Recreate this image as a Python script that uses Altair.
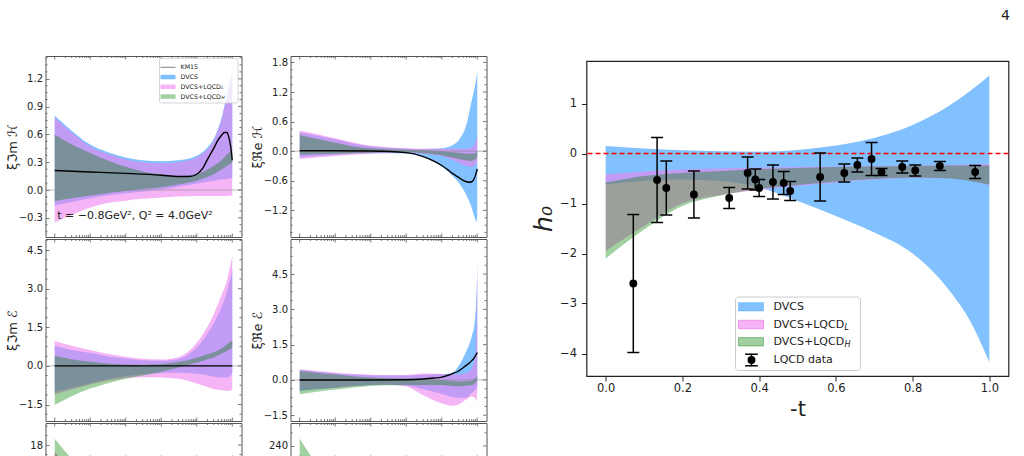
import altair as alt
import pandas as pd

FONT = "DejaVu Sans"
INK = "#222222"
EDGE = "#555555"

BLUE, BLUE_OP = "#1e90ff", 0.56
PINK, PINK_OP = "#ee82ee", 0.6
GREEN, GREEN_OP = "#008000", 0.37

# ---------------- left panels: x = xi (log scale)
XI = [1e-5, 3e-5, 1e-4, 3e-4, 1e-3, 3e-3, 1e-2, 3e-2, 0.1, 0.2, 0.3, 0.5, 0.7, 0.85, 0.95, 1.0]
KM_XI = [1e-5, 1e-4, 1e-3, 1e-2, 0.03, 0.06, 0.1, 0.15, 0.2, 0.3, 0.4, 0.5, 0.6, 0.7, 0.8, 0.9, 1.0]
XI_CUT = [1e-5, 3e-5, 1e-4, 3e-4, 1e-3]

IMH_DVCS_HI = [0.80, 0.64, 0.49, 0.41, 0.35, 0.32, 0.31, 0.32, 0.37, 0.46, 0.55, 0.78, 1.02, 1.16, 1.24, 1.29]
IMH_DVCS_LO = [-0.17, -0.13, -0.09, -0.06, -0.035, -0.015, 0.005, 0.035, 0.07, 0.09, 0.10, 0.115, 0.12, 0.125, 0.13, 0.13]
IMH_L_HI = [0.78, 0.62, 0.47, 0.39, 0.33, 0.30, 0.29, 0.30, 0.35, 0.44, 0.53, 0.76, 1.00, 1.14, 1.22, 1.27]
IMH_L_LO = [-0.35, -0.27, -0.19, -0.14, -0.115, -0.095, -0.08, -0.07, -0.065, -0.065, -0.065, -0.065, -0.065, -0.062, -0.06, -0.06]
IMH_H_HI = [0.60, 0.49, 0.40, 0.32, 0.25, 0.20, 0.17, 0.15, 0.17, 0.22, 0.26, 0.32, 0.38, 0.41, 0.43, 0.44]
IMH_H_LO = [-0.12, -0.09, -0.06, -0.035, -0.01, 0.01, 0.03, 0.06, 0.10, 0.14, 0.17, 0.22, 0.26, 0.28, 0.29, 0.30]
IMH_KM15 = [0.21, 0.195, 0.18, 0.16, 0.145, 0.145, 0.17, 0.24, 0.33, 0.45, 0.54, 0.59, 0.62, 0.62, 0.57, 0.47, 0.32]

REH_DVCS_HI = [0.38, 0.32, 0.24, 0.16, 0.10, 0.07, 0.05, 0.045, 0.06, 0.12, 0.22, 0.55, 1.03, 1.30, 1.50, 1.63]
REH_DVCS_LO = [-0.13, -0.10, -0.07, -0.05, -0.04, -0.04, -0.05, -0.11, -0.31, -0.50, -0.64, -0.90, -1.15, -1.35, -1.43, -1.30]
REH_L_HI = [0.42, 0.35, 0.26, 0.18, 0.11, 0.08, 0.06, 0.05, 0.05, 0.05, 0.05, 0.05, 0.07, 0.15, 0.25, 0.30]
REH_L_LO = [-0.16, -0.13, -0.10, -0.07, -0.05, -0.035, -0.03, -0.05, -0.10, -0.18, -0.24, -0.30, -0.32, -0.28, -0.24, -0.20]
REH_H_HI = [0.33, 0.25, 0.17, 0.10, 0.06, 0.04, 0.03, 0.02, 0.0, -0.02, -0.03, -0.05, -0.05, -0.04, -0.02, 0.01]
REH_H_LO = [-0.07, -0.06, -0.05, -0.04, -0.03, -0.02, -0.02, -0.04, -0.08, -0.13, -0.16, -0.19, -0.20, -0.17, -0.14, -0.12]
REH_KM15 = [0.01, 0.01, 0.005, -0.03, -0.11, -0.20, -0.29, -0.38, -0.45, -0.53, -0.59, -0.62, -0.63, -0.62, -0.57, -0.48, -0.36]

IME_DVCS_HI = [0.78, 0.62, 0.50, 0.38, 0.29, 0.22, 0.20, 0.27, 0.72, 1.25, 1.65, 2.30, 2.85, 3.30, 3.55, 3.70]
IME_DVCS_LO = [-1.0, -0.85, -0.68, -0.52, -0.40, -0.32, -0.28, -0.27, -0.30, -0.36, -0.42, -0.45, -0.45, -0.40, -0.33, -0.28]
IME_L_HI = [0.97, 0.78, 0.62, 0.47, 0.36, 0.28, 0.25, 0.34, 0.90, 1.52, 2.00, 2.75, 3.30, 3.80, 4.10, 4.30]
IME_L_LO = [-1.10, -0.92, -0.72, -0.58, -0.47, -0.44, -0.45, -0.50, -0.68, -0.82, -0.90, -0.95, -0.97, -0.96, -0.95, -0.95]
IME_H_HI = [0.39, 0.26, 0.16, 0.09, 0.05, 0.04, 0.07, 0.15, 0.32, 0.45, 0.53, 0.68, 0.83, 0.92, 0.97, 1.00]
IME_H_LO = [-1.52, -1.18, -0.88, -0.68, -0.50, -0.37, -0.23, -0.06, 0.13, 0.26, 0.33, 0.48, 0.58, 0.65, 0.69, 0.71]
IME_KM15 = [0.0, 0.0, 0.0, 0.0, 0.0, 0.0, 0.0, 0.0, 0.0, 0.0, 0.0, 0.0, 0.0, 0.0, 0.0, 0.0, 0.0]

REE_DVCS_HI = [0.42, 0.35, 0.28, 0.23, 0.20, 0.19, 0.19, 0.22, 0.25, 0.30, 0.60, 1.25, 1.85, 2.50, 3.60, 4.60]
REE_DVCS_LO = [-0.47, -0.40, -0.33, -0.26, -0.21, -0.20, -0.24, -0.40, -0.60, -0.72, -0.76, -0.75, -0.55, -0.45, -0.35, -0.30]
REE_L_HI = [0.45, 0.38, 0.31, 0.26, 0.22, 0.21, 0.21, 0.27, 0.25, 0.22, 0.24, 0.30, 0.50, 0.90, 2.50, 5.30]
REE_L_LO = [-0.44, -0.39, -0.34, -0.27, -0.21, -0.20, -0.28, -0.65, -1.00, -1.10, -1.04, -0.82, -0.70, -0.75, -0.90, -0.40]
REE_H_HI = [0.38, 0.31, 0.23, 0.16, 0.10, 0.07, 0.06, 0.03, 0.0, -0.05, -0.07, -0.06, -0.02, 0.05, 0.12, 0.20]
REE_H_LO = [-0.61, -0.50, -0.41, -0.33, -0.26, -0.23, -0.21, -0.21, -0.22, -0.26, -0.27, -0.25, -0.22, -0.15, -0.05, 0.05]
REE_KM15 = [0.0, 0.0, 0.0, 0.01, 0.04, 0.08, 0.12, 0.20, 0.27, 0.38, 0.52, 0.63, 0.72, 0.82, 0.92, 1.04, 1.16]

# third row (only its top edge is visible)
ROW3L_L_HI = [17.0, 14.0, 11.0, 8.5, 6.5]
ROW3L_L_LO = [5.0, 4.0, 3.0, 2.0, 1.0]
ROW3L_H_HI = [19.0, 15.8, 12.6, 10.0, 8.0]
ROW3L_H_LO = [8.0, 6.0, 4.0, 2.5, 1.5]
ROW3R_L_HI = [210.0, 180.0, 150.0, 120.0, 90.0]
ROW3R_L_LO = [100.0, 80.0, 60.0, 40.0, 20.0]
ROW3R_H_HI = [251.0, 211.0, 170.0, 135.0, 105.0]
ROW3R_H_LO = [150.0, 120.0, 90.0, 60.0, 40.0]

X_MAJOR = [1e-5, 1e-4, 1e-3, 1e-2, 1e-1, 1.0]
X_MINOR = [m * 10.0 ** e for e in range(-5, 0) for m in range(2, 10)]
ZERO = [0.0]

# ---------------- right panel: h0 vs -t
T_GRID = [0.0, 0.1, 0.2, 0.3, 0.4, 0.5, 0.6, 0.7, 0.8, 0.9, 0.95, 1.0]
H0_DVCS_HI = [0.15, 0.10, 0.065, 0.045, 0.035, 0.07, 0.16, 0.31, 0.57, 0.98, 1.25, 1.56]
H0_DVCS_LO = [-0.62, -0.55, -0.52, -0.55, -0.68, -0.95, -1.25, -1.58, -2.0, -2.78, -3.35, -4.17]
H0_L_HI = [-0.42, -0.36, -0.32, -0.30, -0.28, -0.27, -0.26, -0.25, -0.24, -0.23, -0.22, -0.21]
H0_L_LO = [-1.95, -1.45, -1.0, -0.83, -0.73, -0.65, -0.58, -0.52, -0.49, -0.50, -0.55, -0.63]
H0_H_HI = [-0.58, -0.45, -0.39, -0.35, -0.31, -0.29, -0.27, -0.26, -0.25, -0.24, -0.24, -0.24]
H0_H_LO = [-2.10, -1.52, -1.05, -0.84, -0.71, -0.63, -0.56, -0.51, -0.48, -0.50, -0.55, -0.62]

LQCD_T = [0.072, 0.134, 0.158, 0.230, 0.322, 0.370, 0.390, 0.400, 0.436, 0.464,
          0.481, 0.559, 0.622, 0.656, 0.693, 0.719, 0.773, 0.807, 0.871, 0.963]
LQCD_H0 = [-2.60, -0.53, -0.69, -0.82, -0.89, -0.39, -0.52, -0.69, -0.57, -0.59,
           -0.75, -0.47, -0.39, -0.23, -0.11, -0.37, -0.27, -0.34, -0.25, -0.37]
LQCD_ERR = [1.38, 0.85, 0.54, 0.47, 0.21, 0.32, 0.21, 0.17, 0.34, 0.23,
            0.19, 0.48, 0.18, 0.14, 0.33, 0.07, 0.12, 0.11, 0.09, 0.13]

ONE = pd.DataFrame({"k": [0]})
DVCSLQCD_EM = 6.437  # advance width of "DVCS+LQCD" in DejaVu Sans, in em


def vtext(x, y, text, size, **kw):
    return alt.Chart(ONE).mark_text(text=text, font=FONT, fontSize=size, color=INK,
                                    align="left", baseline="middle", **kw).encode(
        x=alt.value(x), y=alt.value(y))


def vrect(x0, x1, y0, y1, **kw):
    return alt.Chart(ONE).mark_rect(**kw).encode(
        x=alt.value(x0), x2=alt.value(x1), y=alt.value(y0), y2=alt.value(y1))


def vrule(x0, x1, y0, y1, **kw):
    return alt.Chart(ONE).mark_rule(**kw).encode(
        x=alt.value(x0), x2=alt.value(x1), y=alt.value(y0), y2=alt.value(y1))


def label_with_sub(x, y, sub, size, subsize, dy):
    w = DVCSLQCD_EM * size
    return [vtext(x, y, "DVCS+LQCD", size),
            vtext(x + w + 0.3, y + dy, sub, subsize, fontStyle="italic")]


def minor_ticks(dom, step, majors):
    out = []
    k = int(dom[0] // step) - 1
    while k * step <= dom[1] + 1e-9:
        v = round(k * step, 6)
        if dom[0] < v < dom[1] and all(abs(v - m) > 1e-6 for m in majors):
            out.append(v)
        k += 1
    return out


XS_L = alt.Scale(type="log", domain=[5.5e-6, 1.82], nice=False)


def left_panel(W, H, ydom, yticks, ystep, fmt, title, bands, xs_band, km=None,
               zero=True, legend=False, note=False, title_opacity=1.0):
    ys = alt.Scale(domain=ydom, nice=False, zero=False)
    yaxis = alt.Axis(values=yticks, tickCount=20, format=fmt, title=title, labelFont=FONT,
                     labelFontSize=10, labelColor=INK, labelPadding=3, labelOverlap=False,
                     tickSize=3.5, tickWidth=0.8, tickColor=EDGE, offset=-3.5, domain=False,
                     grid=False, minExtent=26, maxExtent=26, titleFont=FONT, titleFontSize=13,
                     titleFontWeight="normal", titleColor=INK, titlePadding=3.5,
                     titleOpacity=title_opacity)
    layers = []
    first = True
    for hi, lo, color, op in bands:
        df = pd.DataFrame({"xi": xs_band, "hi": hi, "lo": lo})
        yenc = alt.Y("hi:Q", scale=ys, axis=yaxis) if first else alt.Y("hi:Q", scale=ys)
        layers.append(alt.Chart(df).mark_area(color=color, opacity=op, interpolate="monotone",
                                              clip=True).encode(
            x=alt.X("xi:Q", scale=XS_L, axis=None), y=yenc, y2="lo:Q"))
        first = False
    if zero:
        layers.append(alt.Chart(pd.DataFrame({"z": ZERO})).mark_rule(
            color="#8a8a8a", strokeWidth=0.6).encode(y=alt.Y("z:Q", scale=ys)))
    if km is not None:
        df = pd.DataFrame({"xi": KM_XI, "km": km})
        layers.append(alt.Chart(df).mark_line(color="black", strokeWidth=1.4,
                                              interpolate="monotone", clip=True).encode(
            x=alt.X("xi:Q", scale=XS_L, axis=None), y=alt.Y("km:Q", scale=ys)))
    # inward ticks (top / bottom / right, minor left)
    for vals, L in ((X_MAJOR, 3.5), (X_MINOR, 2.0)):
        df = pd.DataFrame({"v": vals})
        for y0, y1 in ((0, L), (H, H - L)):
            layers.append(alt.Chart(df).mark_rule(color=EDGE, strokeWidth=0.8).encode(
                x=alt.X("v:Q", scale=XS_L, axis=None), y=alt.value(y0), y2=alt.value(y1)))
    ymin = minor_ticks(ydom, ystep / 4.0, yticks)
    for vals, L, sides in ((yticks, 3.5, (W,)), (ymin, 2.0, (0, W))):
        df = pd.DataFrame({"v": vals})
        for x0 in sides:
            x1 = x0 + L if x0 == 0 else x0 - L
            layers.append(alt.Chart(df).mark_rule(color=EDGE, strokeWidth=0.8).encode(
                y=alt.Y("v:Q", scale=ys), x=alt.value(x0), x2=alt.value(x1)))
    if note:
        layers.append(alt.Chart(ONE).mark_text(
            text="t = \u22120.8GeV\u00b2, Q\u00b2 = 4.0GeV\u00b2", font=FONT, fontSize=11,
            color=INK, align="center", baseline="middle").encode(
            x=alt.value(89.5), y=alt.value(160)))
    if legend:
        fs = 6.3
        layers.append(vrect(114, 192.5, 2.3, 47, fill="white", fillOpacity=0.8,
                            stroke="#cccccc", strokeWidth=0.8, cornerRadius=2))
        layers.append(vrule(115, 130, 11.3, 11.3, color="#666666", strokeWidth=0.8))
        layers.append(vtext(135, 11.3, "KM15", fs))
        layers.append(vrect(115, 130, 18.8, 23.3, fill=BLUE, fillOpacity=BLUE_OP))
        layers.append(vtext(135, 21, "DVCS", fs))
        layers.append(vrect(115, 130, 28.6, 33.1, fill=PINK, fillOpacity=PINK_OP))
        layers += label_with_sub(135, 30.8, "L", fs, 4.6, 1.6)
        layers.append(vrect(115, 130, 38.3, 42.8, fill=GREEN, fillOpacity=GREEN_OP))
        layers += label_with_sub(135, 40.5, "H", fs, 4.6, 1.6)
    return alt.layer(*layers).properties(
        width=W, height=H, view=alt.ViewBackground(stroke=EDGE, strokeWidth=1))


W_L = 196
pA = left_panel(W_L, 181, [-0.507, 1.446], [-0.3, 0.0, 0.3, 0.6, 0.9, 1.2], 0.3, ".1f",
                "\u03be\u2111m \u210b",
                [(IMH_DVCS_HI, IMH_DVCS_LO, BLUE, BLUE_OP), (IMH_L_HI, IMH_L_LO, PINK, PINK_OP),
                 (IMH_H_HI, IMH_H_LO, GREEN, GREEN_OP)], XI, km=IMH_KM15, legend=True, note=True)
pB = left_panel(W_L, 181, [-1.74, 1.93], [-1.2, -0.6, 0.0, 0.6, 1.2, 1.8], 0.6, ".1f",
                "\u03be\u211ce \u210b",
                [(REH_DVCS_HI, REH_DVCS_LO, BLUE, BLUE_OP), (REH_L_HI, REH_L_LO, PINK, PINK_OP),
                 (REH_H_HI, REH_H_LO, GREEN, GREEN_OP)], XI, km=REH_KM15)
pC = left_panel(W_L, 182, [-2.14, 4.93], [-1.5, 0.0, 1.5, 3.0, 4.5], 1.5, ".1f",
                "\u03be\u2111m \u2130",
                [(IME_DVCS_HI, IME_DVCS_LO, BLUE, BLUE_OP), (IME_L_HI, IME_L_LO, PINK, PINK_OP),
                 (IME_H_HI, IME_H_LO, GREEN, GREEN_OP)], XI, km=IME_KM15)
pD = left_panel(W_L, 182, [-1.745, 5.99], [-1.5, 0.0, 1.5, 3.0, 4.5], 1.5, ".1f",
                "\u03be\u211ce \u2130",
                [(REE_DVCS_HI, REE_DVCS_LO, BLUE, BLUE_OP), (REE_L_HI, REE_L_LO, PINK, PINK_OP),
                 (REE_H_HI, REE_H_LO, GREEN, GREEN_OP)], XI, km=REE_KM15)
pE = left_panel(W_L, 36, [15.8, 21.5], [18], 6, "d", "\u03be",
                [(ROW3L_L_HI, ROW3L_L_LO, PINK, PINK_OP), (ROW3L_H_HI, ROW3L_H_LO, GREEN, GREEN_OP)],
                XI_CUT, zero=False, title_opacity=0.0)
pF = left_panel(W_L, 36, [220, 275], [240], 80, "d", "\u03be",
                [(ROW3R_L_HI, ROW3R_L_LO, PINK, PINK_OP), (ROW3R_H_HI, ROW3R_H_LO, GREEN, GREEN_OP)],
                XI_CUT, zero=False, title_opacity=0.0)

ROW_GAP = 8
left_block = alt.vconcat(
    alt.hconcat(pA, pB, spacing=ROW_GAP),
    alt.hconcat(pC, pD, spacing=ROW_GAP),
    alt.hconcat(pE, pF, spacing=ROW_GAP),
    spacing=0)

# ---------------- right panel
W_R, H_R = 422, 315
XS_R = alt.Scale(domain=[-0.05, 1.05], nice=False, zero=False)
YS_R = alt.Scale(domain=[-4.45, 1.85], nice=False, zero=False)
x_axis_r = alt.Axis(values=[0.0, 0.2, 0.4, 0.6, 0.8, 1.0], tickCount=20, format=".1f",
                    labelFont=FONT, labelFontSize=11.5, labelColor=INK, labelPadding=1,
                    labelOverlap=False, tickSize=5, tickColor=INK, tickWidth=1, domain=False,
                    grid=False, labelFlush=False, title="-t", titleFont=FONT, titleFontSize=21,
                    titleFontWeight="normal", titleColor=INK, titlePadding=5)
y_axis_r = alt.Axis(values=[-4, -3, -2, -1, 0, 1], tickCount=20, format="d", labelFont=FONT,
                    labelFontSize=11.5, labelColor=INK, labelPadding=5, labelOverlap=False,
                    tickSize=5, tickColor=INK, tickWidth=1, domain=False, grid=False,
                    minExtent=26, maxExtent=26, title="h\u2080", titleFont=FONT,
                    titleFontSize=25, titleFontStyle="italic", titleFontWeight="normal",
                    titleColor=INK, titlePadding=4)

r_layers = []
first = True
for hi, lo, color, op in ((H0_DVCS_HI, H0_DVCS_LO, BLUE, BLUE_OP),
                          (H0_L_HI, H0_L_LO, PINK, PINK_OP),
                          (H0_H_HI, H0_H_LO, GREEN, GREEN_OP)):
    df = pd.DataFrame({"t": T_GRID, "hi": hi, "lo": lo})
    if first:
        xe = alt.X("t:Q", scale=XS_R, axis=x_axis_r)
        ye = alt.Y("hi:Q", scale=YS_R, axis=y_axis_r)
    else:
        xe = alt.X("t:Q", scale=XS_R)
        ye = alt.Y("hi:Q", scale=YS_R)
    r_layers.append(alt.Chart(df).mark_area(color=color, opacity=op, interpolate="monotone").encode(
        x=xe, y=ye, y2="lo:Q"))
    first = False

r_layers.append(alt.Chart(pd.DataFrame({"z": ZERO})).mark_rule(
    color="red", strokeDash=[5, 3], strokeWidth=1.4).encode(y=alt.Y("z:Q", scale=YS_R)))

pts = alt.Chart(pd.DataFrame({"t": LQCD_T, "h": LQCD_H0, "e": LQCD_ERR})).transform_calculate(
    lo="datum.h - datum.e", hi="datum.h + datum.e")
xenc = alt.X("t:Q", scale=XS_R)
r_layers.append(pts.mark_rule(color="black", strokeWidth=1.5).encode(
    x=xenc, y=alt.Y("lo:Q", scale=YS_R), y2="hi:Q"))
for f in ("lo", "hi"):
    r_layers.append(pts.mark_tick(color="black", thickness=1.5, size=12, orient="horizontal",
                                  opacity=1).encode(
        x=xenc, y=alt.Y(f + ":Q", scale=YS_R)))
r_layers.append(pts.mark_circle(color="black", size=62, opacity=1).encode(
    x=xenc, y=alt.Y("h:Q", scale=YS_R)))

# legend
r_layers.append(vrect(149, 274, 236, 309.5, fill="white", fillOpacity=0.8, stroke="#cccccc",
                      strokeWidth=1, cornerRadius=3))
r_layers.append(vrect(152, 177, 241.6, 250, fill=BLUE, fillOpacity=BLUE_OP, stroke=BLUE,
                      strokeOpacity=0.3))
r_layers.append(vtext(187, 245.8, "DVCS", 11))
r_layers.append(vrect(152, 177, 259.3, 267.7, fill=PINK, fillOpacity=PINK_OP, stroke=PINK,
                      strokeOpacity=0.8))
r_layers += label_with_sub(187, 263.5, "L", 11, 8, 3)
r_layers.append(vrect(152, 177, 276.6, 285, fill=GREEN, fillOpacity=GREEN_OP, stroke=GREEN,
                      strokeOpacity=0.4))
r_layers += label_with_sub(187, 280.8, "H", 11, 8, 3)
r_layers.append(vrule(165, 165, 293.2, 304.8, color="black", strokeWidth=1.5))
r_layers.append(vrule(158.7, 171.3, 293.2, 293.2, color="black", strokeWidth=1.5))
r_layers.append(vrule(158.7, 171.3, 304.8, 304.8, color="black", strokeWidth=1.5))
r_layers.append(alt.Chart(ONE).mark_circle(color="black", size=62, opacity=1).encode(
    x=alt.value(165), y=alt.value(299)))
r_layers.append(vtext(187, 299, "LQCD data", 11))

right = alt.layer(*r_layers).properties(
    width=W_R, height=H_R, view=alt.ViewBackground(stroke="#222222", strokeWidth=1.2))

spacer = alt.Chart(ONE).mark_rule(strokeOpacity=0).encode(
    x=alt.value(0), x2=alt.value(1), y=alt.value(1)).properties(
    width=1, height=3, view=alt.ViewBackground(stroke="transparent"))

chart = alt.hconcat(left_block, alt.vconcat(spacer, right, spacing=0), spacing=43).properties(
    title=alt.TitleParams("4", anchor="end", fontSize=14, font=FONT, fontWeight="normal",
                          color=INK, offset=32),
    padding={"left": 5.5, "top": 9, "right": 0, "bottom": 0},
    autosize=alt.AutoSizeParams(type="pad"),
).configure(background="white")

chart.save("out.html", embed_options={"renderer": "svg", "actions": False})
